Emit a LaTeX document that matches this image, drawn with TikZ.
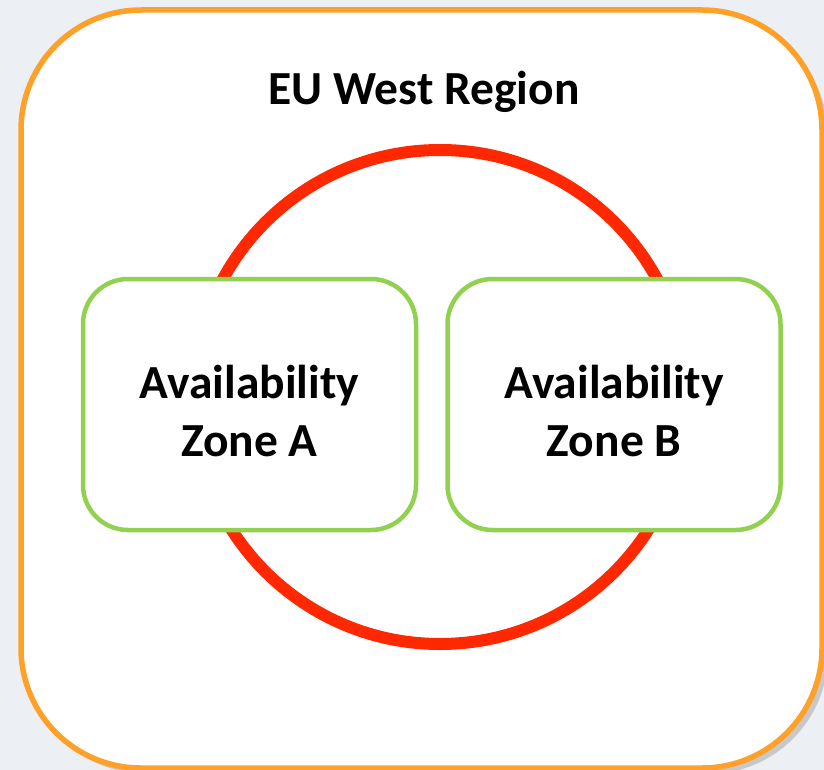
\documentclass[tikz,border=0pt]{standalone}
\usepackage{fontspec}
\setmainfont{Carlito}
\usetikzlibrary{shadows}

\definecolor{regionorange}{RGB}{255,160,40}
\definecolor{ringred}{RGB}{255,40,0}
\definecolor{zonegreen}{RGB}{146,208,80}
\definecolor{backdrop}{RGB}{236,239,243}

\tikzset{
  zonebox/.style = {draw = zonegreen, line width = 4.5pt, fill = white, rounded corners = 45pt,
                    minimum width = 333pt, minimum height = 251pt, align = center,
                    font = \bfseries\fontsize{47.5}{58}\selectfont}
}

\begin{document}
\begin{tikzpicture}[x = 1pt, y = -1pt]
				\useasboundingbox [fill = backdrop] (0,0) rectangle (824,770);
				\draw [regionorange, line width = 5.5pt, fill = white, rounded corners = 120pt,
				       drop shadow = {shadow xshift = 6pt, shadow yshift = -6pt, opacity = 0.35}]
				      (21,10) rectangle (822,768);
				\node (title) at (424,92) {\bfseries\fontsize{47.5}{58}\selectfont EU West Region};
				\draw [ringred, line width = 12pt] (440,397) circle [radius = 247];
				\node [zonebox] (zoneA) at (249.5,404.5) {\rule{0pt}{46pt}Availability\\Zone A};
				\node [zonebox] (zoneB) at (614,404.5) {\rule{0pt}{46pt}Availability\\Zone B};
		\end{tikzpicture}
\end{document}
